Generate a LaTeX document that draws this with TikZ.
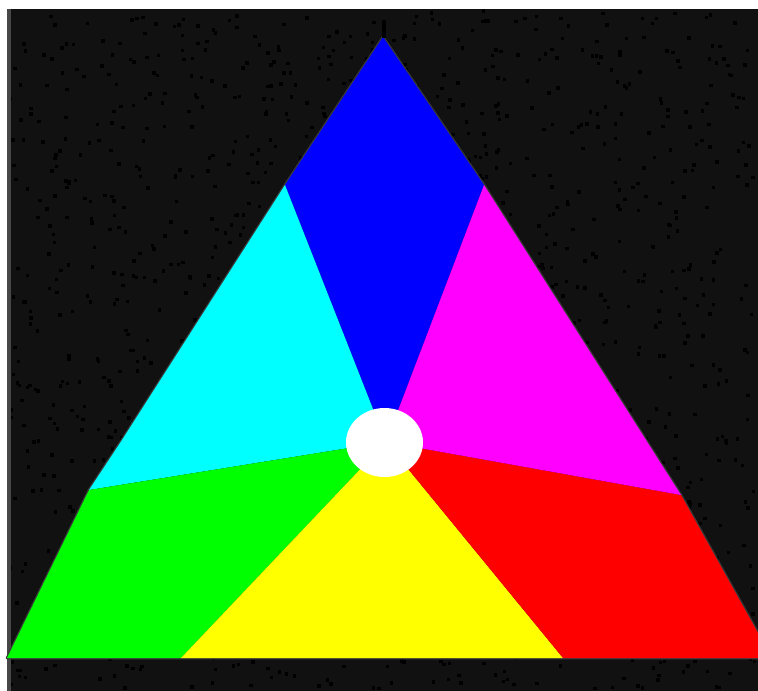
\documentclass[tikz,border=0pt]{standalone}
\definecolor{bg}{HTML}{111111}
\definecolor{strip}{HTML}{474747}
\definecolor{edge}{HTML}{3A3A3A}
\definecolor{cblue}{HTML}{0000FF}
\definecolor{ccyan}{HTML}{00FFFF}
\definecolor{cgreen}{HTML}{00FF00}
\definecolor{cyellow}{HTML}{FFFF00}
\definecolor{cred}{HTML}{FF0000}
\definecolor{cmag}{HTML}{FF00FF}
\begin{document}
\begin{tikzpicture}[x=1pt,y=-1pt,
  region/.style={draw=none},
  dotmark/.style={fill=black}]
\useasboundingbox (0,0) rectangle (758,691);
\fill[white] (0,0) rectangle (758,691);
\fill[bg] (7,9) rectangle (758,691);
\pgfmathsetseed{7}
\foreach \i in {1,...,1500}{%
  \pgfmathsetmacro\rx{8+746*rnd}%
  \pgfmathsetmacro\ry{9+678*rnd}%
  \fill[dotmark] (\rx,\ry) rectangle ++(3.5,3.5);
}
\fill[strip] (7,9) rectangle (11,691);
% key points
\coordinate (A) at (383,37);
\coordinate (L1) at (285,185);
\coordinate (LA) at (122,440);
\coordinate (L2) at (89,490);
\coordinate (BL) at (7,658);
\coordinate (B1) at (181,658);
\coordinate (B2) at (563,658);
\coordinate (BR) at (758,658);
\coordinate (RD) at (758,633);
\coordinate (R2) at (681,495);
\coordinate (RA) at (665,470);
\coordinate (R1) at (484,185);
\coordinate (C) at (386,442);
% outline halo
\draw[edge,line width=2.5pt,line join=round] (A) -- (L1) -- (LA) -- (L2) -- (BL) -- (BR) -- (RD) -- (R2) -- (RA) -- (R1) -- cycle;
% regions
\fill[cblue,region] (A) -- (R1) -- (C) -- (L1) -- cycle;
\fill[ccyan,region] (L1) -- (C) -- (L2) -- (LA) -- cycle;
\fill[cgreen,region] (L2) -- (C) -- (B1) -- (BL) -- cycle;
\fill[cyellow,region] (B1) -- (C) -- (B2) -- cycle;
\fill[cred,region] (B2) -- (C) -- (R2) -- (RD) -- (BR) -- cycle;
\fill[cmag,region] (R1) -- (RA) -- (R2) -- (C) -- cycle;
% centre disc
\fill[white] (384.5,442.5) ellipse [x radius=38.5pt, y radius=34.5pt];
% apex tick
\fill[black] (382,20) rectangle (386,38);
\end{tikzpicture}
\end{document}
